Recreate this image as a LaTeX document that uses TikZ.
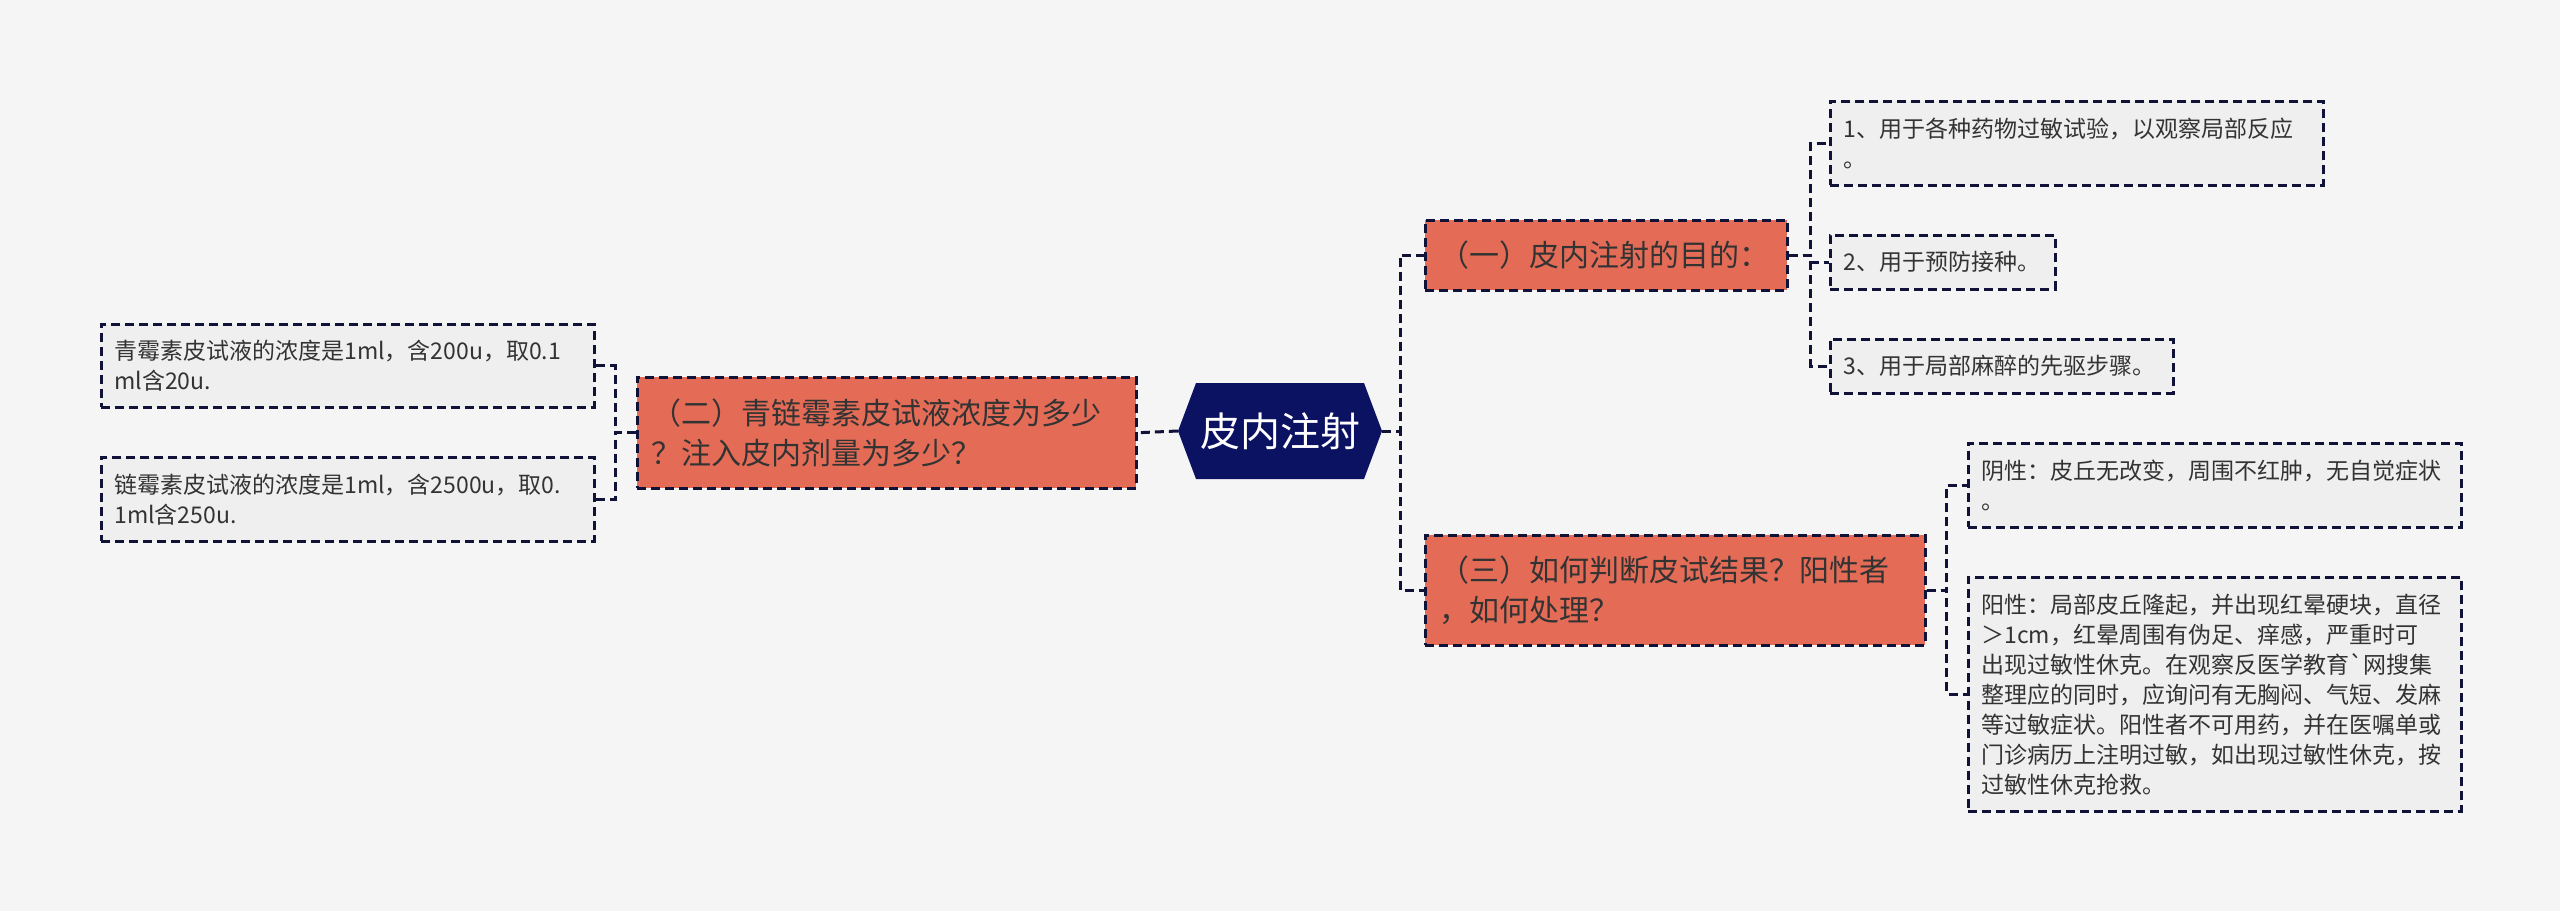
\documentclass[tikz,border=0pt]{standalone}
\usepackage{fontspec}
\newfontfamily\cjk{Noto Sans CJK SC}
\definecolor{bgc}{HTML}{F5F5F5}
\definecolor{leaffill}{HTML}{EFEFEF}
\definecolor{branchfill}{HTML}{E46C57}
\definecolor{hexfill}{HTML}{0B1261}
\definecolor{linec}{HTML}{111238}
\definecolor{txt}{HTML}{333333}
\begin{document}
\begin{tikzpicture}[x=1pt,y=-1pt,
  dashpat/.style={dash pattern=on 9pt off 5pt},
  leafbox/.style={draw=linec, dashpat, line width=2.5pt, fill=leaffill, text=txt,
    font=\cjk\fontsize{23}{30}\selectfont, align=left, anchor=north west,
    inner xsep=13pt, inner ysep=0pt},
  branchbox/.style={draw=linec, dashpat, line width=2.5pt, fill=branchfill, text=txt,
    font=\cjk\fontsize{30}{40}\selectfont, align=left, anchor=north west,
    inner xsep=14pt, inner ysep=0pt},
  conn/.style={draw=linec, dashpat, line width=3pt}
]
\fill[bgc] (0,0) rectangle (2560,911);

% central hexagon
\fill[hexfill] (1178,431) -- (1196,383) -- (1364,383) -- (1382,431) -- (1364,479) -- (1196,479) -- cycle;
\node[text=white, font=\cjk\fontsize{40}{48}\selectfont, minimum width=204pt, minimum height=96pt, inner sep=0pt] (hex) at (1280,431) {皮内注射};

% branches
\node[branchbox, minimum width=362pt, minimum height=70pt, text width=334pt] (b1) at (1424,219) {（一）皮内注射的目的：};
\node[branchbox, minimum width=499pt, minimum height=111pt, text width=471pt] (b2) at (636,376) {（二）青链霉素皮试液浓度为多少\\？注入皮内剂量为多少？};
\node[branchbox, minimum width=500pt, minimum height=110pt, text width=472pt] (b3) at (1424,534) {（三）如何判断皮试结果？阳性者\\，如何处理？};

% leaves of branch 1
\node[leafbox, minimum width=493pt, minimum height=84pt, text width=467pt] (l1) at (1829,100) {1、用于各种药物过敏试验，以观察局部反应\\。};
\node[leafbox, minimum width=225pt, minimum height=54pt, text width=199pt] (l2) at (1829,234) {2、用于预防接种。};
\node[leafbox, minimum width=343pt, minimum height=54pt, text width=317pt] (l3) at (1829,338) {3、用于局部麻醉的先驱步骤。};

% leaves of branch 3
\node[leafbox, minimum width=493pt, minimum height=84pt, text width=467pt] (l4) at (1967,442) {阴性：皮丘无改变，周围不红肿，无自觉症状\\。};
\node[leafbox, minimum width=493pt, minimum height=234pt, text width=467pt] (l5) at (1967,576) {阳性：局部皮丘隆起，并出现红晕硬块，直径\\＞1cm，红晕周围有伪足、痒感，严重时可\\出现过敏性休克。在观察反医学教育`网搜集\\整理应的同时，应询问有无胸闷、气短、发麻\\等过敏症状。阳性者不可用药，并在医嘱单或\\门诊病历上注明过敏，如出现过敏性休克，按\\过敏性休克抢救。};

% leaves of branch 2
\node[leafbox, minimum width=493pt, minimum height=83pt, text width=467pt] (m1) at (100,323) {青霉素皮试液的浓度是1ml，含200u，取0.1\\ml含20u.};
\node[leafbox, minimum width=493pt, minimum height=84pt, text width=467pt] (m2) at (100,456) {链霉素皮试液的浓度是1ml，含2500u，取0.\\1ml含250u.};

% connectors
\draw[conn] (hex.east) -- ++(18,0) |- (b1.west);
\draw[conn] (hex.east) -- ++(18,0) |- (b3.west);
\draw[conn] (hex.west) -- (b2.east);

\draw[conn] (b1.east) -- ++(22,0) |- (l1.west);
\draw[conn] (b1.east) -- ++(22,0) |- (l2.west);
\draw[conn] (b1.east) -- ++(22,0) |- (l3.west);

\draw[conn] (b3.east) -- ++(20,0) |- (l4.west);
\draw[conn] (b3.east) -- ++(20,0) |- (l5.west);

\draw[conn] (b2.west) -- ++(-21,0) |- (m1.east);
\draw[conn] (b2.west) -- ++(-21,0) |- (m2.east);
\end{tikzpicture}
\end{document}
